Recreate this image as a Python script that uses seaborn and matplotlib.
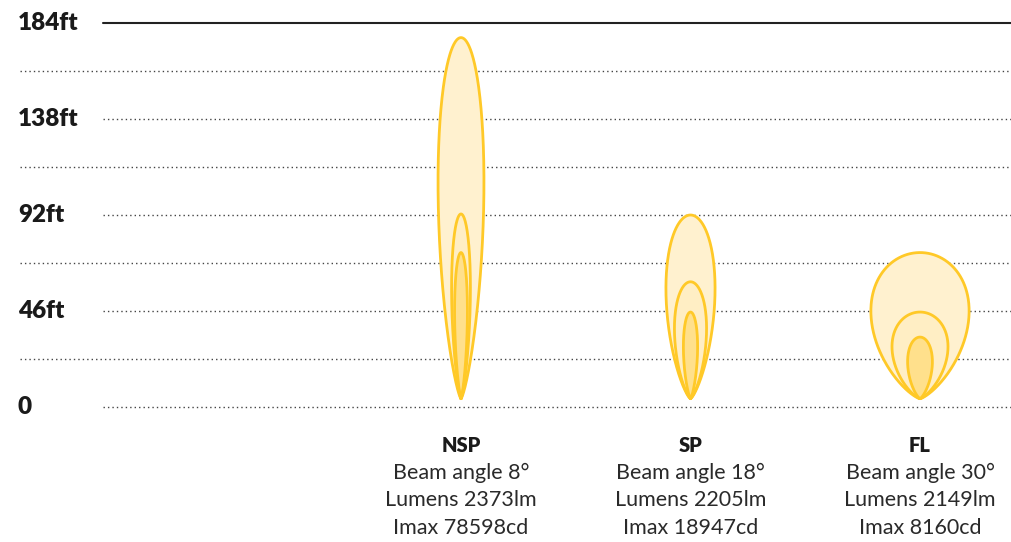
import numpy as np
import pandas as pd
import matplotlib.pyplot as plt
import matplotlib.transforms as mtransforms
import seaborn as sns

# --- Dados ---
beams = ['NSP', 'SP', 'FL']
beam_angle = ['8°', '18°', '30°']
lumens = ['2373lm', '2205lm', '2149lm']
imax = ['78598cd', '18947cd', '8160cd']

# topo de cada contorno (ft): externo, médio, interno
outer_top = [177, 92, 74]
middle_top = [92.5, 60, 45.5]
inner_top = [74, 45.5, 33.5]

# meia-largura máxima de cada contorno (fração do espaçamento entre feixes)
outer_half = [0.100, 0.107, 0.214]
middle_half = [0.041, 0.070, 0.122]
inner_half = [0.028, 0.031, 0.054]

y_ticks = [0, 46, 92, 138, 184]
y_minor = [23, 69, 115, 161]

# --- Estilo ---
sns.set_style("white")
plt.rcParams['font.family'] = ['Lato', 'DejaVu Sans']

W, H = 1011, 542
fig = plt.figure(figsize=(W / 100, H / 100), dpi=100)
ax = fig.add_axes([0, 135 / H, 1, 384 / H])
ax.set_ylim(0, 184)
spacing = 229.5
ax.set_xlim(-461 / spacing, (W - 461) / spacing)
ax.axis('off')

ytrans = mtransforms.blended_transform_factory(ax.transAxes, ax.transData)

# grade
for y in y_ticks:
    if y == 184:
        ax.axhline(y, xmin=103 / W, xmax=1, color='#222222', lw=1.5, zorder=1, clip_on=False)
    else:
        ax.axhline(y, xmin=103 / W, xmax=1, color='#444444', lw=1,
                   ls=(0, (1, 2.2)), zorder=1, clip_on=False)
    lab = '0' if y == 0 else f'{y}ft'
    ax.text(18 / W, y, lab, transform=ytrans, ha='left', va='center',
            fontsize=17.5, fontweight='heavy', color='#1a1a1a')
for y in y_minor:
    ax.axhline(y, xmin=20 / W, xmax=1, color='#444444', lw=1, ls=(0, (1, 2.2)),
               zorder=1, clip_on=False)

# --- Contornos dos feixes ---
base = 4.0
m = 0.5
norm = 0.862  # máximo de sin(t)*sin(t/2)**0.5
theta = np.linspace(0, np.pi, 240)
rows = []
layers = [('outer', outer_top, outer_half, '#FFF1CF'),
          ('middle', middle_top, middle_half, '#FFEEC4'),
          ('inner', inner_top, inner_half, '#FFE08C')]
for i, name in enumerate(beams):
    for lname, tops, halves, fc in layers:
        h = tops[i] - base
        w = halves[i] / norm
        xr = w * np.sin(theta) * np.sin(theta / 2) ** m
        yy = base + h * (1 - np.cos(theta)) / 2
        xs = np.concatenate([i + xr, (i - xr)[::-1]])
        ys = np.concatenate([yy, yy[::-1]])
        ax.fill(xs, ys, color=fc, zorder=2)
        rows.append(pd.DataFrame({'x': xs, 'y': ys, 'unit': f'{name}-{lname}'}))

outline = pd.concat(rows, ignore_index=True)
sns.lineplot(data=outline, x='x', y='y', units='unit', estimator=None, sort=False,
             color='#FFC928', lw=2, ax=ax, zorder=3)

# --- Rótulos inferiores ---
trans = mtransforms.blended_transform_factory(ax.transData, fig.transFigure)
for i, name in enumerate(beams):
    ax.text(i, 1 - 445 / H, name, transform=trans, ha='center', va='center',
            fontsize=14.5, fontweight='heavy', color='#1a1a1a')
    for k, line in enumerate([f'Beam angle {beam_angle[i]}', f'Lumens {lumens[i]}', f'Imax {imax[i]}']):
        ax.text(i, 1 - (473 + 27.5 * k) / H, line, transform=trans, ha='center', va='center',
                fontsize=15.5, color='#2a2a2a')

fig.savefig('out.png', dpi=100)
